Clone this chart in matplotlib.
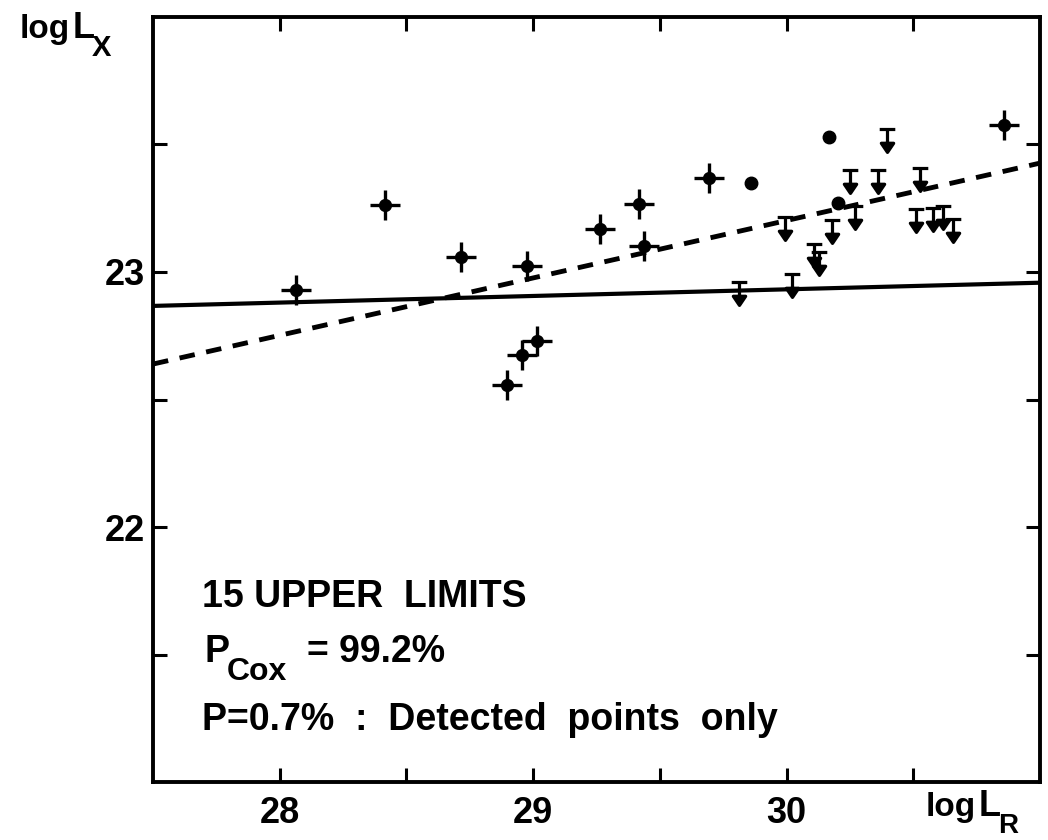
import matplotlib
matplotlib.use("Agg")
import matplotlib.pyplot as plt
from matplotlib.path import Path

plt.rcParams["font.family"] = ["Liberation Sans", "DejaVu Sans"]
plt.rcParams["font.weight"] = "bold"
NARROW = ["Liberation Sans Narrow", "Liberation Sans", "DejaVu Sans"]

# detected sources (log L_R, log L_X)
det_x = [28.064, 28.415, 28.715, 28.974, 28.895, 28.957, 29.016,
         29.262, 29.417, 29.436, 29.695, 30.859]
det_y = [22.931, 23.264, 23.059, 23.024, 22.556, 22.676, 22.729,
         23.167, 23.268, 23.102, 23.369, 23.576]

# filled dots
dot_x = [30.166, 29.859, 30.203]
dot_y = [23.529, 23.349, 23.271]

# X-ray upper limits (15)
lim_x = [29.811, 30.022, 30.107, 30.127, 29.993, 30.179, 30.251, 30.362,
         30.271, 30.395, 30.525, 30.509, 30.578, 30.617, 30.656]
lim_y = [22.961, 22.993, 23.111, 23.078, 23.216, 23.203, 23.399, 23.399,
         23.259, 23.562, 23.408, 23.248, 23.251, 23.259, 23.209]

# fitted lines (end points)
fit_all_x = [27.5, 31.0]
fit_all_y = [22.867, 22.958]
fit_det_x = [27.5, 31.0]
fit_det_y = [22.639, 23.427]

x_ticks = [28, 28.5, 29, 29.5, 30, 30.5]
x_labels = ["28", "", "29", "", "30", ""]
y_ticks = [21.5, 22, 22.5, 23, 23.5]
y_labels = ["", "22", "", "23", ""]

# upper limit marker: bar on top, stem and arrow head pointing down
ul_verts = [(-0.34, 0), (0.34, 0),
            (0, 0), (0, -0.7),
            (-0.27, -0.6), (0.27, -0.6), (0, -1.0), (-0.27, -0.6)]
ul_codes = [Path.MOVETO, Path.LINETO,
            Path.MOVETO, Path.LINETO,
            Path.MOVETO, Path.LINETO, Path.LINETO, Path.CLOSEPOLY]
ul_marker = Path(ul_verts, ul_codes)

fig = plt.figure(figsize=(10.48, 8.40), dpi=100)
ax = fig.add_axes([0.146, 0.069, 0.8464, 0.9108])

ax.plot(fit_all_x, fit_all_y, color="black", lw=3.0, solid_capstyle="butt", zorder=2)
ax.plot(fit_det_x, fit_det_y, color="black", lw=3.5, dashes=(3.2, 2.4), zorder=2)

ax.plot(det_x, det_y, ls="none", marker="+", ms=21, mew=2.4, color="black", zorder=3)
ax.plot(det_x, det_y, ls="none", marker="o", ms=8.5, color="black", zorder=3)
ax.plot(dot_x, dot_y, ls="none", marker="o", ms=9, color="black", zorder=3)
ax.plot(lim_x, lim_y, ls="none", marker=ul_marker, ms=33, mew=2.3,
        mfc="black", mec="black", zorder=3)

ax.set_xlim(27.5, 31.0)
ax.set_ylim(21.0, 24.0)
ax.set_xticks(x_ticks)
ax.set_xticklabels(x_labels)
ax.set_yticks(y_ticks)
ax.set_yticklabels(y_labels)
ax.tick_params(direction="in", length=10, width=2.2, labelsize=26,
               top=True, right=True)
ax.tick_params(axis="x", pad=10)
ax.tick_params(axis="y", pad=6)
for s in ax.spines.values():
    s.set_linewidth(2.8)

# axis labels
fig.text(20 / 1048, 1 - 38 / 840, "log", fontsize=24, va="baseline", family=NARROW)
fig.text(73 / 1048, 1 - 38 / 840, "L", fontsize=26, va="baseline")
fig.text(92 / 1048, 1 - 56 / 840, "X", fontsize=21, va="baseline")
fig.text(926 / 1048, 1 - 816 / 840, "log", fontsize=24, va="baseline", family=NARROW)
fig.text(979 / 1048, 1 - 816 / 840, "L", fontsize=26, va="baseline")
fig.text(998 / 1048, 1 - 833 / 840, "R", fontsize=20, va="baseline")

# annotations
ax.text(27.694, 21.686, "15 UPPER  LIMITS", fontsize=27, va="baseline")
ax.text(27.702, 21.471, "P", fontsize=27, va="baseline")
ax.text(27.792, 21.40, "Cox", fontsize=23, va="baseline")
ax.text(28.106, 21.471, "= 99.2%", fontsize=27, va="baseline")
ax.text(27.694, 21.204, "P=0.7%  :  Detected  points  only", fontsize=27, va="baseline")

fig.savefig("out.png", dpi=100)
